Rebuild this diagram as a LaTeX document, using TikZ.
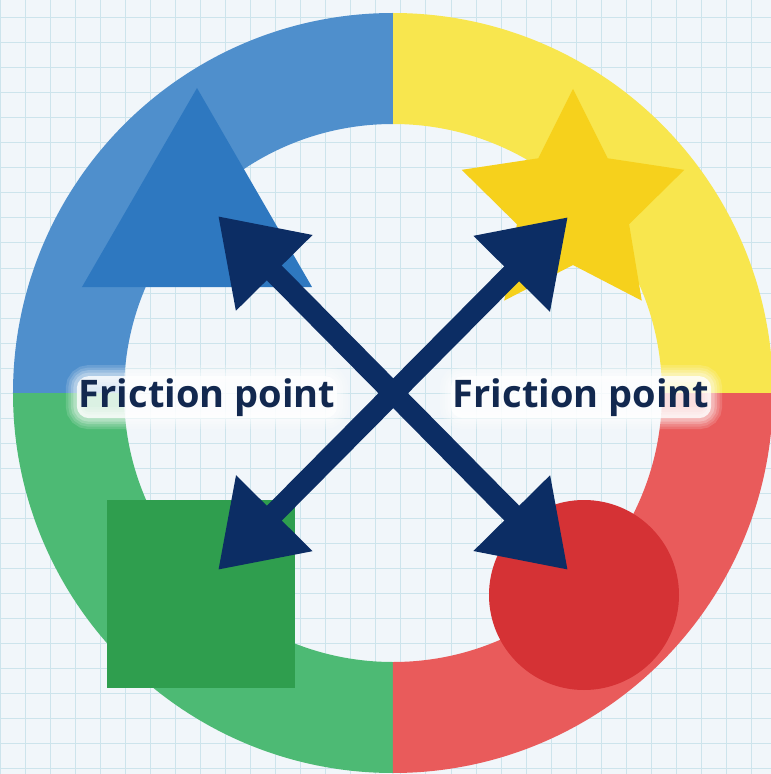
\documentclass[tikz,border=0pt]{standalone}
\usepackage{fontspec}
\setmainfont{Open Sans}
\usepackage{tikz}
\usetikzlibrary{arrows.meta, positioning, calc}

\definecolor{paper}{HTML}{F1F6FA}
\definecolor{gridcol}{HTML}{CDE4EC}
\definecolor{ringblue}{HTML}{4F8FCC}
\definecolor{ringyellow}{HTML}{F8E64E}
\definecolor{ringgreen}{HTML}{4DBA74}
\definecolor{ringred}{HTML}{E95B5B}
\definecolor{triblue}{HTML}{2E78C0}
\definecolor{staryellow}{HTML}{F6D11C}
\definecolor{sqgreen}{HTML}{2F9E4E}
\definecolor{circred}{HTML}{D53235}
\definecolor{navy}{HTML}{0C2D64}
\definecolor{navytext}{HTML}{12284F}

\tikzstyle{gridline} = [draw=gridcol, line width=1pt]
\tikzstyle{arrow} = [draw=navy, line width=21pt, >={Triangle[length=80pt, width=102pt]}, <->]
\tikzstyle{frictionlabel} = [text=navytext, font=\fontsize{38}{44}\selectfont\bfseries, inner sep=2pt, rounded corners=12pt,
  preaction={draw=white, line width=22pt, draw opacity=0.15},
  preaction={draw=white, line width=17pt, draw opacity=0.15},
  preaction={draw=white, line width=12pt, draw opacity=0.2},
  preaction={draw=white, line width=7pt, draw opacity=0.25},
  preaction={fill=white, fill opacity=0.8}]

\newcommand{\ringpart}[3]{% colour, start, end
  \fill[#1] (#2:380) arc[start angle=#2, end angle=#3, radius=380]
    -- (#3:269) arc[start angle=#3, end angle=#2, radius=269] -- cycle;}

\begin{document}
\begin{tikzpicture}[x=1pt, y=1pt]
  \clip (-393,-381) rectangle (378,393);
  \fill[paper] (-393,-381) rectangle (378,393);
  \begin{scope}[xshift=8pt]
    \draw[gridline, step=25pt] (-425,-400) grid (400,425);
  \end{scope}

  % ring
  \ringpart{ringyellow}{0}{90}
  \ringpart{ringblue}{90}{180}
  \ringpart{ringgreen}{180}{270}
  \ringpart{ringred}{270}{360}

  % shapes
  \fill[triblue] (-196,305) -- (-311,106) -- (-81,106) -- cycle;
  \fill[staryellow] (180,187) +(90:117)
    \foreach \k in {1,...,9} {
      -- +({90+36*\k}:{ifthenelse(isodd(\k),59,117)})
    } -- cycle;
  \fill[sqgreen] (-286,-107) rectangle (-98,-295);
  \fill[circred] (191,-202) circle[radius=95];

  % labels
  \node[frictionlabel, anchor=base] (left label) at (-186,-14) {Friction point};
  \node[frictionlabel, anchor=base] (right label) at (188,-14) {Friction point};

  % arrow ends
  \coordinate (triangle end) at (-175,177);
  \coordinate (star end) at (175,176);
  \coordinate (square end) at (-175,-177);
  \coordinate (circle end) at (175,-177);

  \draw[arrow] (triangle end) -- (circle end);
  \draw[arrow] (square end) -- (star end);
\end{tikzpicture}
\end{document}
